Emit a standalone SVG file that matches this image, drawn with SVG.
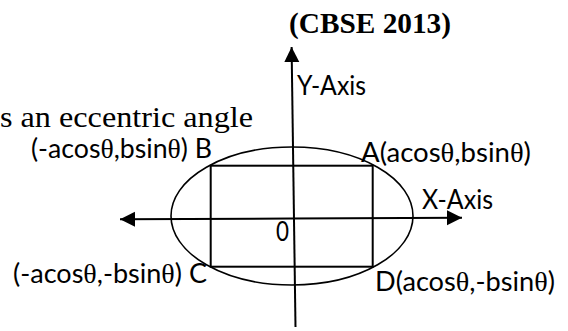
<svg xmlns="http://www.w3.org/2000/svg" width="568" height="331" viewBox="0 0 568 331">
<style>
.lbl{font-family:Lato,"Open Sans","Liberation Sans",sans-serif;font-size:26px;fill:#000}
.th{font-family:"Liberation Serif","DejaVu Serif",serif;font-size:27px}
.ser{font-family:"Liberation Serif","Times New Roman",serif;fill:#000}
.stroke{fill:none;stroke:#000}
</style>
<defs>
<marker id="arr" markerUnits="userSpaceOnUse" markerWidth="16" markerHeight="16" refX="15" refY="7.5" orient="auto">
<path d="M0,0 L15,7.5 L0,15 z" fill="#000"/>
</marker>
</defs>
<rect width="568" height="331" fill="#fff"/>
<g id="title"><text class="ser" x="289" y="33" font-size="30" font-weight="bold" textLength="162" lengthAdjust="spacingAndGlyphs">(CBSE 2013)</text></g>
<g id="caption"><text class="ser" x="0" y="127" font-size="29" textLength="253" lengthAdjust="spacingAndGlyphs">s an eccentric angle</text></g>
<g id="ellipse"><ellipse class="stroke" cx="292" cy="216" rx="121" ry="69" stroke-width="1.6"/></g>
<g id="rectangle"><rect class="stroke" x="210.7" y="165.7" width="162" height="101" stroke-width="2"/></g>
<g id="connectors">
<line class="stroke" x1="295.5" y1="327" x2="291.6" y2="47" stroke-width="2" marker-end="url(#arr)"/>
<line class="stroke" x1="291" y1="218.5" x2="120" y2="219.3" stroke-width="2" marker-end="url(#arr)"/>
<line class="stroke" x1="291" y1="218.5" x2="462" y2="217.7" stroke-width="2" marker-end="url(#arr)"/>
</g>
<g id="label-y"><text class="lbl" x="297" y="95" textLength="69" lengthAdjust="spacingAndGlyphs">Y-Axis</text></g>
<g id="label-x"><text class="lbl" x="422" y="209" textLength="71" lengthAdjust="spacingAndGlyphs">X-Axis</text></g>
<g id="label-o"><text class="lbl" x="276" y="241" textLength="13" lengthAdjust="spacingAndGlyphs">0</text></g>
<g id="label-a"><text class="lbl" x="361" y="162" textLength="170" lengthAdjust="spacingAndGlyphs">A(acos<tspan class="th">θ</tspan>,bsin<tspan class="th">θ</tspan>)</text></g>
<g id="label-b"><text class="lbl" x="31" y="158" textLength="181" lengthAdjust="spacingAndGlyphs">(-acos<tspan class="th">θ</tspan>,bsin<tspan class="th">θ</tspan>) B</text></g>
<g id="label-c"><text class="lbl" x="13" y="283" textLength="194" lengthAdjust="spacingAndGlyphs">(-acos<tspan class="th">θ</tspan>,-bsin<tspan class="th">θ</tspan>) C</text></g>
<g id="label-d"><text class="lbl" x="375" y="291" textLength="180" lengthAdjust="spacingAndGlyphs">D(acos<tspan class="th">θ</tspan>,-bsin<tspan class="th">θ</tspan>)</text></g>
</svg>
